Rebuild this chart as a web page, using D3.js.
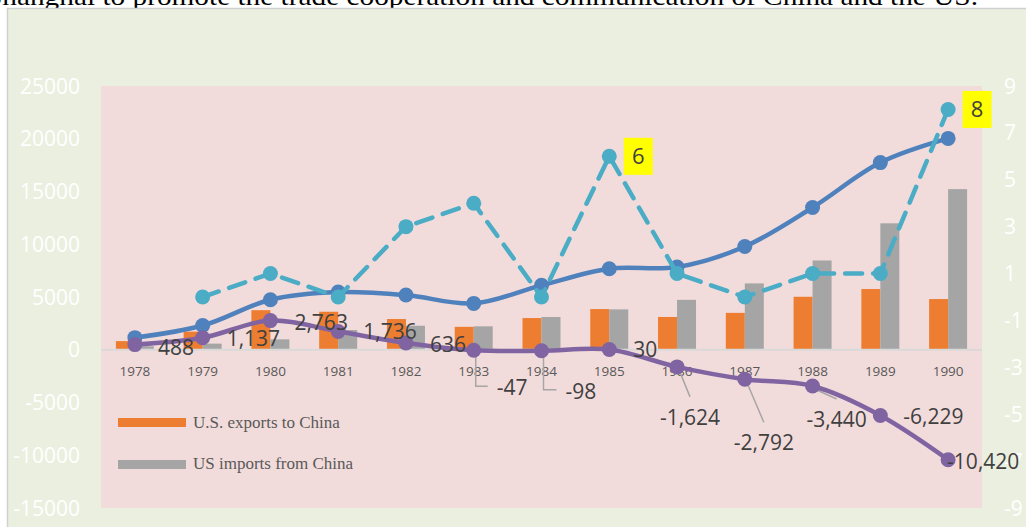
<!DOCTYPE html>
<html lang="en">
<head>
	<meta charset="UTF-8">
	<title>US-China trade 1978-1990</title>
	<script src="https://d3js.org/d3.v7.min.js"></script>
	<style>
		html, body {
			margin: 0;
			padding: 0;
			background: #ffffff;
			overflow: hidden;
		}
		svg {
			display: block;
		}
		.axis-label {
			font-family: "Open Sans", sans-serif;
			font-size: 21px;
			fill: #ffffff;
		}
		.cat-label {
			font-family: "Open Sans", sans-serif;
			font-size: 13.5px;
			fill: #595959;
		}
		.data-label {
			font-family: "Open Sans", sans-serif;
			font-size: 21px;
			fill: #404040;
		}
		.legend-label {
			font-family: "Liberation Serif", serif;
			font-size: 17px;
			fill: #595959;
		}
	</style>
</head>
<body>
<div id="chart"></div>
<script>
	// categories
	const years = ["1978", "1979", "1980", "1981", "1982", "1983", "1984", "1985", "1986", "1987", "1988", "1989", "1990"];

	// bar series (million USD)
	const exportsToChina = [818, 1716, 3749, 3603, 2912, 2173, 3004, 3856, 3106, 3497, 5022, 5755, 4806];
	const importsFromChina = [330, 579, 986, 1867, 2276, 2220, 3102, 3826, 4730, 6289, 8462, 11984, 15226];

	// total trade (smooth blue line)
	const totalTrade = [1148, 2295, 4735, 5470, 5188, 4393, 6106, 7682, 7836, 9786, 13484, 17739, 20032];

	// trade balance (smooth purple line) with its data labels
	const tradeBalance = [488, 1137, 2763, 1736, 636, -47, -98, 30, -1624, -2792, -3440, -6229, -10420];
	const balanceLabels = ["488", "1,137", "2,763", "1,736", "636", "-47", "-98", "30", "-1,624", "-2,792", "-3,440", "-6,229", "-10,420"];

	// growth series on the right axis (dashed line), starts in 1979
	const growthYears = ["1979", "1980", "1981", "1982", "1983", "1984", "1985", "1986", "1987", "1988", "1989", "1990"];
	const growthValues = [0, 1, 0, 3, 4, 0, 6, 1, 0, 1, 1, 8];
	const growthHighlighted = ["1985", "1990"];

	// axis ticks
	const leftTicks = [25000, 20000, 15000, 10000, 5000, 0, -5000, -10000, -15000];
	const rightTicks = [9, 7, 5, 3, 1, -1, -3, -5, -7, -9];

	const legendNames = ["U.S. exports to China", "US imports from China"];

	const colors = {
		exports: "#ed7d31",
		imports: "#a5a5a5",
		total: "#4f81bd",
		balance: "#8064a2",
		growth: "#4bacc6",
		frame: "#ebefdf",
		plot: "#f2dcdb"
	};

	const W = 1026, H = 527;
	const plot = { left: 101, right: 982, top: 86, bottom: 508 };

	// label placement for the balance labels: [dx, dy, anchor, leader]
	// leader: null, "elbow" (down then right) or "straight"
	const labelPlacement = [
		[23, 10, "start", null],
		[24, 8, "start", null],
		[24, 9, "start", null],
		[25, 8, "start", null],
		[24, 9, "start", null],
		[23, 45, "start", "elbow"],
		[24, 48, "start", "elbow"],
		[24, 8, "start", null],
		[13, 58, "middle", "straight"],
		[19, 71, "middle", "straight"],
		[24, 41, "middle", "straight"],
		[23, 9, "start", null],
		[-1, 9, "start", null]
	];

	const svg = d3.create("svg")
		.attr("width", W)
		.attr("height", H);

	// heading line of the page, cut off above the chart
	svg.append("text")
		.attr("x", -14)
		.attr("y", 5)
		.attr("textLength", 992)
		.attr("lengthAdjust", "spacingAndGlyphs")
		.style("font-family", "Liberation Serif, serif")
		.style("font-size", "25px")
		.style("fill", "#000")
		.text("Shanghai to promote the trade cooperation and communication of China and the US.");

	// outer chart area
	svg.append("rect")
		.attr("x", 7.5)
		.attr("y", 8.5)
		.attr("width", W)
		.attr("height", H)
		.attr("fill", colors.frame)
		.attr("stroke", "#d0d0d0")
		.attr("stroke-width", 1.5);

	// plot area
	svg.append("rect")
		.attr("x", plot.left)
		.attr("y", plot.top)
		.attr("width", plot.right - plot.left)
		.attr("height", plot.bottom - plot.top)
		.attr("fill", colors.plot);

	// scales
	const x = d3.scaleBand()
		.domain(years)
		.range([plot.left, plot.right])
		.padding(0);
	const cx = d => x(d) + x.bandwidth() / 2;

	const yLeft = d3.scaleLinear()
		.domain([-15000, 25000])
		.range([plot.bottom, plot.top]);

	const yRight = d3.scaleLinear()
		.domain([-9, 9])
		.range([plot.bottom, plot.top]);

	// left axis labels
	svg.append("g")
		.selectAll("text")
		.data(leftTicks)
		.join("text")
		.attr("class", "axis-label")
		.attr("x", 80)
		.attr("y", d => yLeft(d) + 7.5)
		.attr("text-anchor", "end")
		.text(d => d);

	// right axis labels
	svg.append("g")
		.selectAll("text")
		.data(rightTicks)
		.join("text")
		.attr("class", "axis-label")
		.attr("x", 1004)
		.attr("y", d => yRight(d) + 7.5)
		.attr("text-anchor", "start")
		.text(d => d);

	// bars
	const barW = 19;
	const bars = svg.append("g");
	years.forEach((yr, i) => {
		bars.append("rect")
			.attr("x", cx(yr) - barW)
			.attr("y", yLeft(exportsToChina[i]))
			.attr("width", barW)
			.attr("height", yLeft(0) - yLeft(exportsToChina[i]))
			.attr("fill", colors.exports);
		bars.append("rect")
			.attr("x", cx(yr))
			.attr("y", yLeft(importsFromChina[i]))
			.attr("width", barW)
			.attr("height", yLeft(0) - yLeft(importsFromChina[i]))
			.attr("fill", colors.imports);
	});

	// zero line
	svg.append("line")
		.attr("x1", plot.left)
		.attr("x2", plot.right)
		.attr("y1", yLeft(0))
		.attr("y2", yLeft(0))
		.attr("stroke", "#d9d9d9")
		.attr("stroke-width", 2);

	// category labels
	svg.append("g")
		.selectAll("text")
		.data(years)
		.join("text")
		.attr("class", "cat-label")
		.attr("x", d => cx(d))
		.attr("y", 376)
		.attr("text-anchor", "middle")
		.text(d => d);

	const smooth = d3.line().curve(d3.curveCatmullRom.alpha(0.5));

	// total trade line
	const totalPts = years.map((yr, i) => [cx(yr), yLeft(totalTrade[i])]);
	svg.append("path")
		.attr("d", smooth(totalPts))
		.attr("fill", "none")
		.attr("stroke", colors.total)
		.attr("stroke-width", 4.5)
		.attr("stroke-linecap", "round");
	svg.append("g")
		.selectAll("circle")
		.data(totalPts)
		.join("circle")
		.attr("cx", d => d[0])
		.attr("cy", d => d[1])
		.attr("r", 7.5)
		.attr("fill", colors.total);

	// growth dashed line (right axis)
	const growthPts = growthYears.map((yr, i) => [cx(yr), yRight(growthValues[i])]);
	svg.append("path")
		.attr("d", d3.line()(growthPts))
		.attr("fill", "none")
		.attr("stroke", colors.growth)
		.attr("stroke-width", 4.5)
		.attr("stroke-dasharray", "17,11")
		.attr("stroke-linecap", "round");
	svg.append("g")
		.selectAll("circle")
		.data(growthPts)
		.join("circle")
		.attr("cx", d => d[0])
		.attr("cy", d => d[1])
		.attr("r", 7.5)
		.attr("fill", colors.growth);

	// highlighted growth labels
	growthHighlighted.forEach(yr => {
		const i = growthYears.indexOf(yr);
		const px = cx(yr), py = yRight(growthValues[i]);
		svg.append("rect")
			.attr("x", px + 14.5)
			.attr("y", py - 18.5)
			.attr("width", 29)
			.attr("height", 37)
			.attr("fill", "#ffff00");
		svg.append("text")
			.attr("class", "data-label")
			.attr("x", px + 29)
			.attr("y", py + 8)
			.attr("text-anchor", "middle")
			.style("font-size", "22px")
			.text(growthValues[i]);
	});

	// trade balance line
	const balPts = years.map((yr, i) => [cx(yr), yLeft(tradeBalance[i])]);

	// leader lines under the line
	const leaders = svg.append("g")
		.attr("fill", "none")
		.attr("stroke", "#a6a6a6")
		.attr("stroke-width", 1.5);
	balPts.forEach((p, i) => {
		const [dx, dy, , leader] = labelPlacement[i];
		if (leader === "elbow") {
			leaders.append("path")
				.attr("d", `M${p[0] + 2},${p[1] + 2}V${p[1] + dy - 9}H${p[0] + dx - 9}`);
		} else if (leader === "straight") {
			leaders.append("path")
				.attr("d", `M${p[0] + 2},${p[1] + 3}L${p[0] + dx},${p[1] + dy - 28}`);
		}
	});

	svg.append("path")
		.attr("d", smooth(balPts))
		.attr("fill", "none")
		.attr("stroke", colors.balance)
		.attr("stroke-width", 4.5)
		.attr("stroke-linecap", "round");
	svg.append("g")
		.selectAll("circle")
		.data(balPts)
		.join("circle")
		.attr("cx", d => d[0])
		.attr("cy", d => d[1])
		.attr("r", 7.5)
		.attr("fill", colors.balance);

	svg.append("g")
		.selectAll("text")
		.data(balPts)
		.join("text")
		.attr("class", "data-label")
		.attr("x", (d, i) => d[0] + labelPlacement[i][0])
		.attr("y", (d, i) => d[1] + labelPlacement[i][1])
		.attr("text-anchor", (d, i) => labelPlacement[i][2])
		.text((d, i) => balanceLabels[i]);

	// legend
	const legend = svg.append("g");
	[colors.exports, colors.imports].forEach((c, i) => {
		legend.append("rect")
			.attr("x", 118)
			.attr("y", 418 + i * 42)
			.attr("width", 68)
			.attr("height", 9)
			.attr("fill", c);
		legend.append("text")
			.attr("class", "legend-label")
			.attr("x", 193)
			.attr("y", 428 + i * 41)
			.text(legendNames[i]);
	});

	document.getElementById("chart").append(svg.node());
</script>
</body>
</html>
